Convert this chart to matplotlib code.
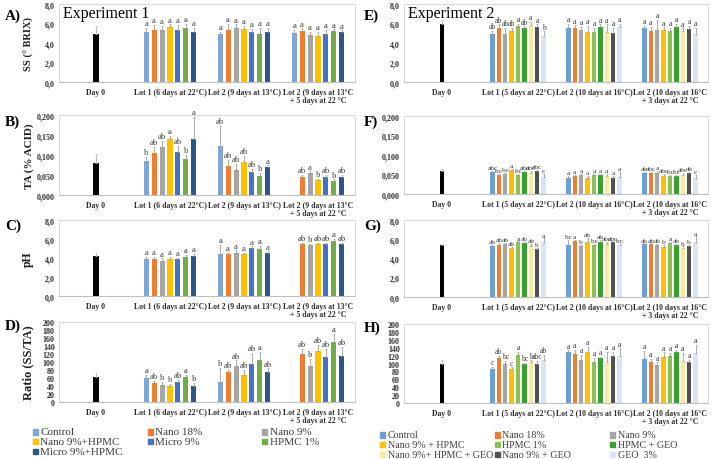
import numpy as np
import matplotlib
matplotlib.use("Agg")
import matplotlib.pyplot as plt
from matplotlib.patches import Rectangle

nan = np.nan
SERIF = ["Liberation Serif", "DejaVu Serif"]

# ---------------- Experiment 1 ----------------
exp1_names = ["Control", "Nano 18%", "Nano 9%", "Nano 9%+HPMC", "Micro 9%", "HPMC 1%", "Micro 9%+HPMC"]
exp1_colors = ["#7EA6D8", "#ED7D31", "#A5A5A5", "#FFC000", "#4472C4", "#70AD47", "#2F5688"]
exp1_cats = ["Day 0", "Lot 1 (6 days at 22°C)", "Lot 2 (9 days at 13°C)",
             "Lot 2 (9 days at 13°C\n+ 5 days at 22 °C"]

# A) SS
A_day0, A_day0_err = 4.9, 0.8
A_vals = [[5.17, 5.34, 5.34, 5.61, 5.34, 5.50, 5.17],
          [4.93, 5.37, 5.50, 5.44, 5.17, 4.93, 5.17],
          [5.03, 5.20, 4.86, 4.76, 4.97, 5.20, 5.10]]
A_err = [[0.40, 0.50, 0.40, 0.30, 0.50, 0.50, 0.40],
         [0.20, 0.60, 0.40, 0.30, 0.30, 0.60, 0.40],
         [0.30, 0.30, 0.30, 0.40, 0.40, 0.20, 0.20]]
A_let = [["a"] * 7, ["a"] * 7, ["a"] * 7]

# B) TA
B_day0, B_day0_err = 0.080, 0.022
B_vals = [[0.085, 0.105, 0.120, 0.140, 0.107, 0.090, 0.140],
          [0.123, 0.073, 0.063, 0.083, 0.058, 0.048, 0.069],
          [nan, 0.045, 0.054, 0.037, 0.045, 0.035, 0.045]]
B_err = [[0.010, 0.015, 0.015, 0.008, 0.015, 0.010, 0.055],
         [0.050, 0.015, 0.015, 0.015, 0.008, 0.008, 0.005],
         [0.0, 0.005, 0.005, 0.004, 0.005, 0.004, 0.005]]
B_let = [["b", "ab", "ab", "a", "ab", "b", "a"],
         ["ab", "ab", "ab", "ab", "ab", "b", "a"],
         ["", "ab", "a", "b", "ab", "b", "ab"]]

# C) pH
C_day0, C_day0_err = 4.2, 0.3
C_vals = [[3.85, 3.90, 3.67, 3.88, 3.85, 4.09, 4.16],
          [4.40, 4.40, 4.50, 4.37, 5.03, 5.00, 4.50],
          [nan, 5.52, 5.38, 5.52, 5.52, 5.80, 5.52]]
C_err = [[0.30, 0.20, 0.30, 0.20, 0.20, 0.20, 0.30],
         [1.00, 0.10, 0.30, 0.20, 0.20, 0.30, 0.20],
         [0.0, 0.10, 0.10, 0.10, 0.10, 0.20, 0.10]]
C_let = [["a"] * 7, ["a"] * 7, ["", "ab", "b", "ab", "ab", "a", "ab"]]

# D) Ratio
D_day0, D_day0_err = 63, 10
D_vals = [[59, 48, 43, 40, 50, 62, 40],
          [50, 76, 89, 68, 95, 105, 74],
          [nan, 120, 89, 128, 113, 149, 116]]
D_err = [[8, 5, 8, 5, 5, 5, 8],
         [35, 5, 15, 12, 28, 20, 10],
         [0, 12, 18, 15, 20, 22, 22]]
D_let = [["a", "ab", "b", "b", "ab", "a", "b"],
         ["b", "ab", "ab", "ab", "ab", "a", "ab"],
         ["", "ab", "b", "ab", "ab", "a", "ab"]]

# ---------------- Experiment 2 ----------------
exp2_names = ["Control", "Nano 18%", "Nano 9%", "Nano 9% + HPMC", "HPMC 1%", "HPMC + GEO",
              "Nano 9%+ HPMC + GEO", "Nano 9% + GEO", "GEO  3%"]
exp2_colors = ["#6C9FD4", "#ED7D31", "#A5A5A5", "#FFC000", "#8CC152", "#38A12E",
               "#FFE79A", "#505050", "#D9E5F3"]
exp2_cats = ["Day 0", "Lot 1 (5 days at 22°C)", "Lot 2 (10 days at 16°C)",
             "Lot 2 (10 days at 16°C\n+ 3 days at 22 °C"]

# E) SS
E_day0, E_day0_err = 5.95, 0.4
E_vals = [[4.93, 5.50, 4.93, 5.27, 5.78, 5.50, 5.85, 5.60, 4.70],
          [5.50, 5.50, 5.37, 5.17, 5.17, 5.60, 5.10, 5.03, 5.60],
          [5.54, 5.27, 5.37, 5.30, 5.27, 5.68, 5.20, 5.44, 4.93]]
E_err = [[0.30, 0.40, 0.60, 0.30, 0.20, 0.20, 0.30, 0.30, 0.50],
         [0.50, 0.30, 0.30, 0.60, 0.40, 0.30, 0.80, 0.50, 0.40],
         [0.20, 0.40, 1.00, 0.30, 0.30, 0.30, 0.30, 0.30, 0.60]]
E_let = [["ab", "ab", "ab", "ab", "a", "ab", "a", "a", "b"],
         ["a"] * 9, ["a"] * 9]

# F) TA
F_day0, F_day0_err = 0.060, 0.003
F_vals = [[0.057, 0.048, 0.051, 0.061, 0.048, 0.056, 0.054, 0.058, 0.044],
          [0.042, 0.045, 0.048, 0.040, 0.048, 0.048, 0.046, 0.042, 0.044],
          [0.053, 0.053, 0.055, 0.047, 0.045, 0.045, 0.049, 0.053, 0.041]]
F_err = [[0.003, 0.004, 0.004, 0.004, 0.004, 0.003, 0.005, 0.003, 0.008],
         [0.004, 0.004, 0.004, 0.006, 0.004, 0.003, 0.006, 0.004, 0.012],
         [0.003, 0.004, 0.004, 0.004, 0.004, 0.003, 0.006, 0.003, 0.007]]
F_let = [["abc", "bc", "bc", "a", "bc", "abc", "abc", "abc", "c"],
         ["a"] * 9,
         ["ab", "abc", "a", "abc", "bc", "bc", "abc", "ab", "c"]]

# G) pH
G_day0, G_day0_err = 5.41, 0.05
G_vals = [[5.28, 5.41, 5.55, 5.07, 5.69, 5.59, 5.34, 4.97, 5.69],
          [5.45, 5.86, 5.28, 5.76, 5.41, 5.76, 5.52, 5.69, 5.45],
          [5.48, 5.48, 5.41, 5.24, 5.62, 5.41, 5.10, 5.28, 5.69]]
G_err = [[0.15, 0.20, 0.10, 0.15, 0.10, 0.10, 0.15, 0.10, 0.40],
         [0.50, 0.10, 0.10, 0.40, 0.10, 0.20, 0.20, 0.10, 0.10],
         [0.10, 0.10, 0.10, 0.15, 0.10, 0.10, 0.15, 0.10, 0.60]]
G_let = [["ab", "ab", "ab", "ab", "a", "ab", "ab", "b", "a"],
         ["bc", "a", "b", "ab", "bc", "ab", "abc", "abc", "bc"],
         ["ab", "ab", "ab", "b", "a", "ab", "b", "b", "a"]]

# H) Ratio
H_day0, H_day0_err = 100, 8
H_vals = [[86, 115, 99, 85, 121, 98, 103, 99, 110],
          [128, 124, 109, 128, 105, 114, 105, 118, 120],
          [112, 104, 95, 116, 118, 129, 106, 104, 126]]
H_err = [[5, 5, 8, 5, 8, 3, 5, 8, 12],
         [5, 10, 12, 15, 10, 3, 25, 12, 18],
         [20, 8, 8, 12, 8, 5, 20, 5, 22]]
H_let = [["c", "ab", "bc", "c", "a", "bc", "b", "abc", "ab"],
         ["a"] * 9, ["a"] * 9]

TXT = "#404040"


def fmt_factory(dec):
    def f(v, pos):
        if dec == 0:
            return "%d" % round(v)
        return ("%.*f" % (dec, v)).replace(".", ",")
    return f


def draw_panel(ax, day0, day0_err, vals, errs, lets, colors, cats, ymax, ystep, dec,
               slot, bw, ylabel=None, ylabel_size=8, letfs=6.2):
    n = len(colors)
    ax.bar([0], [day0], width=bw, color="black", zorder=2)
    ax.errorbar([0], [day0], yerr=[[0], [day0_err]], fmt="none", ecolor="#BFBFBF",
                elinewidth=0.8, capsize=1, capthick=0.6, zorder=3)
    rng = ymax
    for k in range(3):
        for i in range(n):
            v = vals[k][i]
            if np.isnan(v):
                continue
            x = k + 1 + (i - (n - 1) / 2) * slot
            ax.bar([x], [v], width=bw, color=colors[i], zorder=2)
            e = errs[k][i]
            ax.errorbar([x], [v], yerr=[[0], [e]], fmt="none", ecolor="#A0A0A0",
                        elinewidth=0.6, capsize=1, capthick=0.5, zorder=3)
            ax.text(x, v + e + rng * 0.01, lets[k][i], ha="center", va="bottom",
                    fontsize=letfs, family=SERIF, color=TXT, zorder=4)
    ax.set_xlim(-0.5, 3.5)
    ax.set_ylim(0, ymax)
    ax.set_yticks(np.arange(0, ymax + ystep / 2, ystep))
    ax.yaxis.set_major_formatter(matplotlib.ticker.FuncFormatter(fmt_factory(dec)))
    ax.set_xticks(range(4))
    ax.set_xticklabels(cats, fontsize=5.6, fontweight="bold", family=SERIF,
                       color="#303030", linespacing=1.1)
    for t in ax.get_yticklabels():
        t.set_fontsize(5.8)
        t.set_fontweight("bold")
        t.set_family(SERIF)
        t.set_color("#303030")
    ax.tick_params(axis="both", length=0, pad=3)
    ax.tick_params(axis="x", pad=4)
    for s in ["left", "top", "right"]:
        ax.spines[s].set_color("#D9D9D9")
        ax.spines[s].set_linewidth(0.7)
    ax.spines["bottom"].set_color("#BFBFBF")
    ax.spines["bottom"].set_linewidth(0.8)
    if ylabel:
        ax.set_ylabel(ylabel, fontsize=ylabel_size, fontweight="bold", family=SERIF,
                      color="#202020", labelpad=2)


fig = plt.figure(figsize=(7.2, 4.6), dpi=100)
W, H = 720.0, 460.0


def add_ax(x0, x1, ytop, yzero):
    return fig.add_axes([x0 / W, 1 - yzero / H, (x1 - x0) / W, (yzero - ytop) / H])


L0, L1 = 59, 355
R0, R1 = 404, 708

axA = add_ax(L0, L1, 5, 83)
axB = add_ax(L0, L1, 116, 196)
axC = add_ax(L0, L1, 221, 297)
axD = add_ax(L0, L1, 323, 403)
axE = add_ax(R0, R1, 5, 83)
axF = add_ax(R0, R1, 117, 195)
axG = add_ax(R0, R1, 221, 298)
axH = add_ax(R0, R1, 325, 404)

s1, w1 = 0.107, 0.068
s2, w2 = 0.084, 0.058
draw_panel(axA, A_day0, A_day0_err, A_vals, A_err, A_let, exp1_colors, exp1_cats, 8, 2, 1, s1, w1, "SS (° BRIX)", 7.5)
draw_panel(axB, B_day0, B_day0_err, B_vals, B_err, B_let, exp1_colors, exp1_cats, 0.2, 0.05, 3, s1, w1, "TA (% ACID)", 8)
draw_panel(axC, C_day0, C_day0_err, C_vals, C_err, C_let, exp1_colors, exp1_cats, 8, 2, 1, s1, w1, "pH", 8.5)
draw_panel(axD, D_day0, D_day0_err, D_vals, D_err, D_let, exp1_colors, exp1_cats, 200, 20, 0, s1, w1, "Ratio (SS/TA)", 9)
draw_panel(axE, E_day0, E_day0_err, E_vals, E_err, E_let, exp2_colors, exp2_cats, 8, 2, 1, s2, w2, letfs=5.6)
draw_panel(axF, F_day0, F_day0_err, F_vals, F_err, F_let, exp2_colors, exp2_cats, 0.2, 0.05, 3, s2, w2, letfs=5.3)
draw_panel(axG, G_day0, G_day0_err, G_vals, G_err, G_let, exp2_colors, exp2_cats, 8, 2, 1, s2, w2, letfs=5.3)
draw_panel(axH, H_day0, H_day0_err, H_vals, H_err, H_let, exp2_colors, exp2_cats, 200, 20, 0, s2, w2, letfs=5.6)

for ax in (axA, axB, axC, axD):
    ax.yaxis.set_label_coords(-0.085, 0.5)

axA.text(0.012, 0.99, "Experiment 1", transform=axA.transAxes, fontsize=11.5,
         family=SERIF, va="top", ha="left", color="black")
axE.text(0.012, 0.99, "Experiment 2", transform=axE.transAxes, fontsize=11.5,
         family=SERIF, va="top", ha="left", color="black")

panel_labels = [("A)", 5, 16), ("B)", 5, 122), ("C)", 5, 226), ("D)", 5, 326),
                ("E)", 364, 16), ("F)", 364, 122), ("G)", 364, 226), ("H)", 364, 328)]
for lab, px, py in panel_labels:
    fig.text(px / W, 1 - py / H, lab, fontsize=11, fontweight="bold", family=SERIF,
             va="center", ha="left", color="black")


def draw_legend(names, colors, x0, y0, dx, dy, fs):
    for i, (nm, c) in enumerate(zip(names, colors)):
        r, col = divmod(i, 3)
        x = x0 + col * dx
        y = y0 + r * dy
        fig.patches.append(Rectangle((x / W, 1 - (y + 2.6) / H), 5.2 / W, 5.2 / H,
                                     transform=fig.transFigure, color=c))
        fig.text((x + 7.5) / W, 1 - y / H, nm, fontsize=fs, family=SERIF, color=TXT,
                 va="center", ha="left")


draw_legend(exp1_names, exp1_colors, 33, 433, 114.5, 9.6, 8)
draw_legend(exp2_names, exp2_colors, 380, 436, 115, 9.6, 7.2)

fig.savefig("out.png", dpi=100)
